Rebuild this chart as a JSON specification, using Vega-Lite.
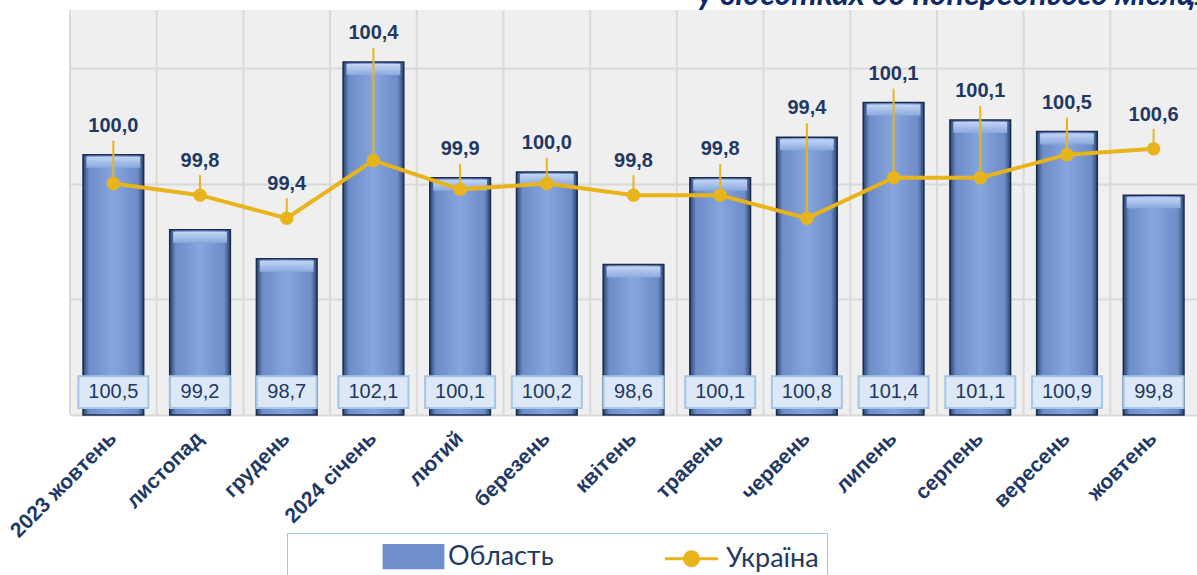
{
  "$schema": "https://vega.github.io/schema/vega-lite/v6.json",
  "width": 1127,
  "height": 405,
  "autosize": {"type": "none"},
  "padding": {"left": 70, "top": 10, "right": 0, "bottom": 160},
  "background": "#ffffff",
  "config": {
    "locale": {"number": {"decimal": ",", "thousands": " ", "grouping": [3], "currency": ["", " грн"]}},
    "view": {"stroke": null, "fill": "#efefef"},
    "font": "Liberation Sans"
  },
  "data": {
    "values": [
      {"m": "2023 жовтень", "obl": 100.5, "ukr": 100.0},
      {"m": "листопад", "obl": 99.2, "ukr": 99.8},
      {"m": "грудень", "obl": 98.7, "ukr": 99.4},
      {"m": "2024 січень", "obl": 102.1, "ukr": 100.4},
      {"m": "лютий", "obl": 100.1, "ukr": 99.9},
      {"m": "березень", "obl": 100.2, "ukr": 100.0},
      {"m": "квітень", "obl": 98.6, "ukr": 99.8},
      {"m": "травень", "obl": 100.1, "ukr": 99.8},
      {"m": "червень", "obl": 100.8, "ukr": 99.4},
      {"m": "липень", "obl": 101.4, "ukr": 100.1},
      {"m": "серпень", "obl": 101.1, "ukr": 100.1},
      {"m": "вересень", "obl": 100.9, "ukr": 100.5},
      {"m": "жовтень", "obl": 99.8, "ukr": 100.6}
    ]
  },
  "encoding": {
    "x": {
      "field": "m",
      "type": "nominal",
      "sort": null,
      "scale": {"paddingInner": 0, "paddingOuter": 0},
      "axis": {
        "title": null,
        "domain": false,
        "ticks": false,
        "labelAngle": -45,
        "labelAlign": "right",
        "labelBaseline": "middle",
        "labelPadding": 20,
        "labelFont": "Liberation Sans",
        "labelFontSize": 21,
        "labelFontWeight": "bold",
        "labelColor": "#1f3864"
      }
    }
  },
  "layer": [
    {
      "mark": {"type": "rule", "color": "#d9d9d9", "strokeWidth": 2},
      "encoding": {"x": {"field": "m", "type": "nominal", "sort": null, "bandPosition": 0}}
    },
    {
      "mark": {"type": "bar", "width": {"band": 0.7}},
      "encoding": {
        "y": {
          "field": "obl",
          "type": "quantitative",
          "scale": {"domain": [96, 103], "zero": false, "nice": false},
          "axis": {"title": null, "values": [96, 98, 100, 102], "labels": false, "ticks": false, "domain": false, "grid": true, "gridColor": "#d9d9d9", "gridWidth": 2}
        },
        "y2": {"datum": 96},
        "color": {
          "datum": "Область",
          "type": "nominal",
          "scale": {"domain": ["Область", "Україна"], "range": ["#6f8fcc", "#e8b41c"]},
          "legend": {
            "orient": "none",
            "legendX": 217,
            "legendY": 523,
            "direction": "horizontal",
            "title": null,
            "labelFont": "Lato",
            "labelFontSize": 27,
            "labelColor": "#1f3864",
            "labelLimit": 400,
            "symbolType": {"expr": "datum.value === 'Область' ? 'M-2.1,-0.8H2.1V0.8H-2.1Z' : 'M-1.9,0H1.9M0.5,0A0.5,0.5,0,1,1,-0.5,0A0.5,0.5,0,1,1,0.5,0Z'"},
            "symbolSize": 784,
            "symbolStrokeWidth": 3,
            "symbolStrokeColor": {"expr": "datum.value === 'Область' ? '#1f3864' : '#e8b41c'"},
            "strokeColor": "#a4c6e6",
            "padding": 8,
            "columnPadding": 19,
            "labelOffset": 19,
            "symbolOffset": 103,
            "labelExpr": "datum.label === 'Україна' ? datum.label + '\u00a0\u00a0\u00a0\u00a0\u00a0\u00a0\u00a0\u00a0\u00a0\u00a0\u00a0\u00a0\u00a0\u00a0\u00a0\u00a0\u00a0\u00a0' : datum.label"
          }
        }
      }
    },
    {
      "mark": {
        "type": "bar",
        "width": {"band": 0.7},
        "stroke": "#1c2c4c",
        "strokeWidth": 1.5,
        "fill": {
          "gradient": "linear", "x1": 0, "y1": 0, "x2": 1, "y2": 0,
          "stops": [
            {"offset": 0, "color": "#2c446f"},
            {"offset": 0.1, "color": "#6d8cc8"},
            {"offset": 0.5, "color": "#87a6de"},
            {"offset": 0.9, "color": "#6d8cc8"},
            {"offset": 1, "color": "#2c446f"}
          ]
        }
      },
      "encoding": {"y": {"field": "obl", "type": "quantitative"}, "y2": {"datum": 96}}
    },
    {
      "mark": {
        "type": "bar",
        "width": {"band": 0.62},
        "yOffset": 2,
        "y2Offset": 13,
        "fill": {
          "gradient": "linear", "x1": 0, "y1": 0, "x2": 0, "y2": 1,
          "stops": [{"offset": 0, "color": "#c3d5f3"}, {"offset": 1, "color": "#8aa9df"}]
        }
      },
      "encoding": {"y": {"field": "obl", "type": "quantitative"}, "y2": {"field": "obl"}}
    },
    {
      "transform": [{"filter": "datum.obl >= 100"}],
      "mark": {"type": "bar", "width": 70, "fill": "#dce8f6", "stroke": "#a4c6e6", "strokeWidth": 2},
      "encoding": {"y": {"datum": 96.12}, "y2": {"datum": 96.67}}
    },
    {
      "transform": [{"filter": "datum.obl < 100"}],
      "mark": {"type": "bar", "width": 60, "fill": "#dce8f6", "stroke": "#a4c6e6", "strokeWidth": 2},
      "encoding": {"y": {"datum": 96.12}, "y2": {"datum": 96.67}}
    },
    {
      "mark": {"type": "text", "fontSize": 20, "color": "#1f3864", "baseline": "middle", "font": "Liberation Sans"},
      "encoding": {"y": {"datum": 96.4}, "text": {"field": "obl", "type": "quantitative", "format": ".1f"}}
    },
    {
      "transform": [{"filter": "datum.obl >= datum.ukr"}],
      "mark": {"type": "rule", "color": "#e8b41c", "strokeWidth": 2, "y2Offset": -14},
      "encoding": {"y": {"field": "ukr", "type": "quantitative"}, "y2": {"field": "obl"}}
    },
    {
      "transform": [{"filter": "datum.obl < datum.ukr"}],
      "mark": {"type": "rule", "color": "#e8b41c", "strokeWidth": 2, "y2Offset": -20},
      "encoding": {"y": {"field": "ukr", "type": "quantitative"}, "y2": {"field": "ukr"}}
    },
    {
      "mark": {"type": "line", "strokeWidth": 4, "point": {"filled": true, "size": 180}},
      "encoding": {"y": {"field": "ukr", "type": "quantitative"}, "color": {"datum": "Україна", "type": "nominal"}}
    },
    {
      "transform": [{"filter": "datum.obl >= datum.ukr"}],
      "mark": {"type": "text", "fontSize": 20, "fontWeight": "bold", "color": "#1f3864", "baseline": "middle", "dy": -29, "font": "Liberation Sans"},
      "encoding": {"y": {"field": "obl", "type": "quantitative"}, "text": {"field": "ukr", "type": "quantitative", "format": ".1f"}}
    },
    {
      "transform": [{"filter": "datum.obl < datum.ukr"}],
      "mark": {"type": "text", "fontSize": 20, "fontWeight": "bold", "color": "#1f3864", "baseline": "middle", "dy": -34, "font": "Liberation Sans"},
      "encoding": {"y": {"field": "ukr", "type": "quantitative"}, "text": {"field": "ukr", "type": "quantitative", "format": ".1f"}}
    },
    {
      "data": {"values": [{"t": "у відсотках до попереднього місяця"}]},
      "mark": {"type": "text", "font": "Lato", "fontSize": 32, "fontStyle": "italic", "fontWeight": "bold", "color": "#0e2a6a", "align": "left", "baseline": "alphabetic", "dx": -23},
      "encoding": {
        "x": {"datum": "травень"},
        "y": {"datum": 103.086},
        "text": {"field": "t", "type": "nominal"}
      }
    }
  ]
}
